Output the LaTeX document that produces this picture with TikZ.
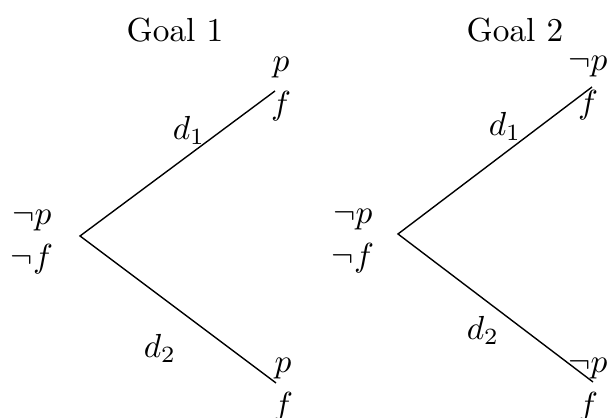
\documentclass[tikz,border=0pt]{standalone}
\usepackage{amsmath,amssymb}
\usetikzlibrary{positioning}

\begin{document}
\begin{tikzpicture}[
  x=0.3pt, y=-0.3pt,
  state/.style={align=center, inner sep=1pt},
  branch/.style={black, line width=0.42pt},
  lbl/.style={inner sep=1pt},
  goal/.style={inner sep=1pt}
]
\useasboundingbox (0,0) rectangle (608,418);

% Goal 1
\node[goal] (g1) at (175,30) {Goal 1};
\coordinate (r1) at (80,236);
\coordinate (u1) at (275,91);
\coordinate (l1) at (276,383);
\node[state, anchor=east] (s1) at (57,242) {$\neg p$\\[1pt]$\neg f$};
\node[state] (t1) at (281,89) {$p$\\[1pt]$f$};
\node[state] (b1) at (283,390) {$p$\\[1pt]$f$};
\draw[branch] (u1) -- (r1) -- (l1);
\node[lbl] (d11) at (189,130) {$d_1$};
\node[lbl] (d12) at (160,348) {$d_2$};

% Goal 2
\node[goal] (g2) at (515,30) {Goal 2};
\coordinate (r2) at (398,234);
\coordinate (u2) at (592,87);
\coordinate (l2) at (593,382);
\node[state, anchor=east] (s2) at (378,241) {$\neg p$\\[1pt]$\neg f$};
\node[state] (t2) at (588,88) {$\neg p$\\[1pt]$f$};
\node[state] (b2) at (588,390) {$\neg p$\\[1pt]$f$};
\draw[branch] (u2) -- (r2) -- (l2);
\node[lbl] (d21) at (505,126) {$d_1$};
\node[lbl] (d22) at (483,330) {$d_2$};
\end{tikzpicture}
\end{document}
